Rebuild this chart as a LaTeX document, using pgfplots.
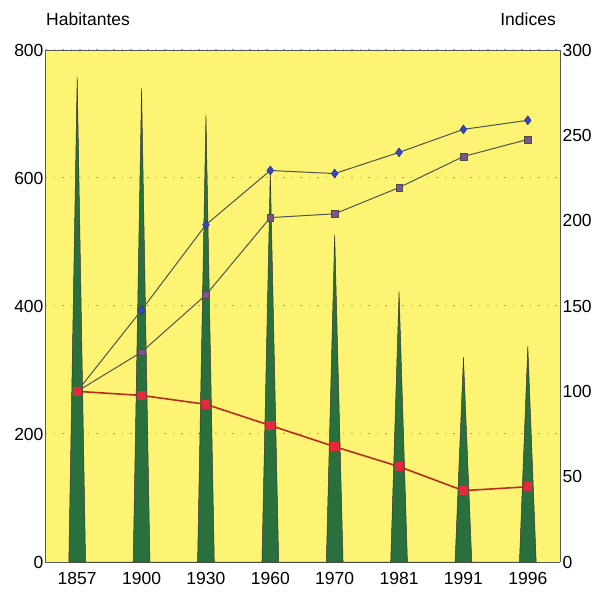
\documentclass[border=0pt]{standalone}
\usepackage{fontspec}
\setmainfont{Liberation Sans}
\usepackage{pgfplots}
\pgfplotsset{compat=1.18}
\definecolor{bgyellow}{RGB}{253,244,115}
\definecolor{spikegreen}{RGB}{42,112,62}
\definecolor{redline}{RGB}{185,45,30}
\definecolor{redmark}{RGB}{230,40,60}
\definecolor{lineolive}{RGB}{75,85,80}
\definecolor{diamondblue}{RGB}{55,70,200}
\definecolor{sqpurple}{RGB}{125,85,140}
\definecolor{gridc}{RGB}{165,165,110}
\begin{document}
\begin{tikzpicture}
\pgfplotsset{
  every tick label/.append style={font=\fontsize{17.5}{20}\selectfont},
  /pgf/number format/assume math mode=true,
}
\begin{axis}[
  name=left,
  scale only axis,
  width=515pt, height=512pt,
  xmin=-0.5, xmax=7.5,
  ymin=0, ymax=800,
  axis background/.style={fill=bgyellow},
  axis line style={draw=black!65, line width=0.6pt},
  xtick={0,1,2,3,4,5,6,7},
  xticklabels={1857,1900,1930,1960,1970,1981,1991,1996},
  ytick={0,200,400,600,800},
  major tick length=0pt,
  ymajorgrids,
  major grid style={gridc, line width=1pt, dash pattern=on 1.5pt off 7pt},
  xticklabel style={yshift=-7pt},
  yticklabel style={xshift=2pt},
  axis y line*=left,
  axis x line*=bottom,
]
\addplot[fill=spikegreen, draw=black!80, line width=0.5pt] coordinates {
 (-0.13,0) (0,758) (0.13,0)
 (0.87,0) (1,740) (1.13,0)
 (1.87,0) (2,698) (2.13,0)
 (2.87,0) (3,610) (3.13,0)
 (3.87,0) (4,511) (4.13,0)
 (4.87,0) (5,422) (5.13,0)
 (5.87,0) (6,320) (6.13,0)
 (6.87,0) (7,337) (7.13,0)
} -- cycle;
\end{axis}
\begin{axis}[
  name=right,
  scale only axis,
  width=515pt, height=512pt,
  xmin=-0.5, xmax=7.5,
  ymin=0, ymax=300,
  axis x line=none,
  axis y line*=right,
  axis line style={draw=black!65, line width=0.6pt},
  ytick={0,50,100,150,200,250,300},
  major tick length=0pt,
  yticklabel style={xshift=-1pt},
]
\addplot[lineolive, line width=1pt, mark=diamond*, mark size=4.5pt,
  mark options={fill=diamondblue, draw=diamondblue!60!black, line width=0.4pt}]
  coordinates {(0,100) (1,147.6) (2,197.6) (3,229.4) (4,227.6) (5,240) (6,253.5) (7,258.8)};
\addplot[lineolive, line width=1pt, mark=square*, mark size=3.3pt,
  mark options={fill=sqpurple, draw=black!70, line width=0.4pt}]
  coordinates {(0,100) (1,123) (2,156.5) (3,201.8) (4,204) (5,219.4) (6,237.6) (7,247.6)};
\addplot[redline, line width=1.6pt, mark=square*, mark size=3.5pt,
  mark options={fill=redmark, draw=redmark}]
  coordinates {(0,100) (1,97.6) (2,92.4) (3,80) (4,67.6) (5,55.9) (6,41.8) (7,44.1)};
\end{axis}
\draw[black!65, line width=0.6pt] (left.north west) -- (left.north east);
\node[anchor=base west, font=\fontsize{17.5}{20}\selectfont, inner sep=0pt] at ([yshift=24pt,xshift=1pt]left.north west) {Habitantes};
\node[anchor=base east, font=\fontsize{17.5}{20}\selectfont, inner sep=0pt] at ([yshift=24pt,xshift=-4pt]left.north east) {Indices};
\pgfresetboundingbox
\path (-45pt,-29pt) rectangle (551pt,562pt);
\end{tikzpicture}
\end{document}
